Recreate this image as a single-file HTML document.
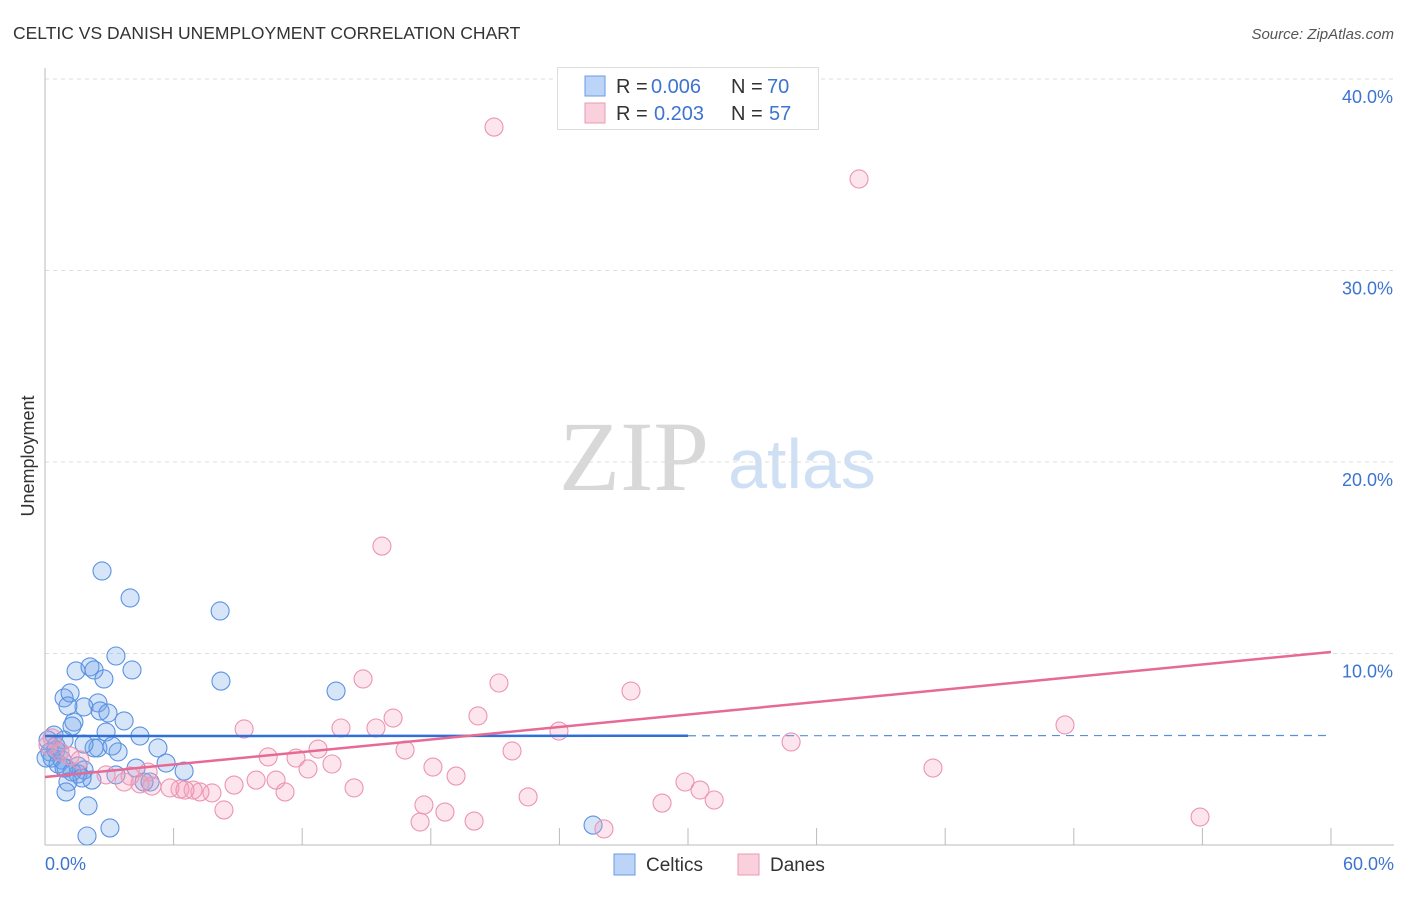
<!DOCTYPE html>
<html><head><meta charset="utf-8"><style>
body{margin:0;background:#fff;font-family:"Liberation Sans",sans-serif}
svg text{font-family:"Liberation Sans",sans-serif}
</style></head><body>
<svg id="chart" width="1406" height="892">
<text x="13" y="39" font-size="17.5" fill="#333">CELTIC VS DANISH UNEMPLOYMENT CORRELATION CHART</text>
<text x="1394" y="39" font-size="15" font-style="italic" fill="#555" text-anchor="end">Source: ZipAtlas.com</text>
<text x="34" y="456" font-size="18" fill="#333" text-anchor="middle" transform="rotate(-90 34 456)">Unemployment</text>
<g><text x="634" y="490" font-size="100" style="font-family:'Liberation Serif',serif" fill="#d8d8d8" text-anchor="middle">ZIP</text><text x="802" y="488" font-size="70" fill="#cfe0f5" text-anchor="middle">atlas</text></g>
<g id="grid"></g><g id="axes"></g><g id="pts"></g><g id="lines"></g>
<g>
<rect x="557.5" y="67.5" width="261" height="62" fill="#fff" stroke="#ddd"/>
<rect x="585" y="76" width="20" height="20" fill="#bcd4f7" stroke="#6a9be0"/>
<rect x="585" y="103" width="20" height="20" fill="#fbd0dd" stroke="#ea9ab4"/>
<text x="616" y="93" font-size="20" fill="#333">R =</text>
<text x="651" y="93" font-size="20" fill="#3d74d0">0.006</text>
<text x="731" y="93" font-size="20" fill="#333">N =</text>
<text x="767" y="93" font-size="20" fill="#3d74d0">70</text>
<text x="616" y="120" font-size="20" fill="#333">R =</text>
<text x="654" y="120" font-size="20" fill="#3d74d0">0.203</text>
<text x="731" y="120" font-size="20" fill="#333">N =</text>
<text x="769" y="120" font-size="20" fill="#3d74d0">57</text>
</g>
<g>
<rect x="614" y="854" width="21" height="21" fill="#bcd4f7" stroke="#6a9be0"/>
<text x="646" y="871" font-size="19" fill="#333">Celtics</text>
<rect x="738" y="854" width="21" height="21" fill="#fbd0dd" stroke="#ea9ab4"/>
<text x="770" y="871" font-size="19" fill="#333">Danes</text>
</g>
</svg>
<script>
const yTicks=[10,20,30,40];
const yTickLabels=["10.0%","20.0%","30.0%","40.0%"];
const xTickLabels=["0.0%","60.0%"];
const celticsX=[2.66,3.97,8.17,3.31,1.45,2.10,2.29,4.06,8.21,13.58,2.75,0.89,1.17,2.47,1.82,2.57,2.94,1.07,1.35,1.26,3.69,0.42,4.43,0.14,2.85,2.47,2.29,3.41,5.27,0.51,0.70,0.23,0.33,0.79,0.05,0.61,0.98,1.54,1.82,1.54,4.25,5.65,6.49,0.89,1.26,3.31,4.62,4.90,2.19,1.73,1.07,0.98,2.01,1.96,3.03,25.57,1.82,0.51,0.89,3.13];
const celticsY=[14.31,12.90,12.22,9.87,9.09,9.30,9.14,9.14,8.56,8.04,8.67,7.68,7.94,7.42,7.21,7.00,6.89,7.26,6.42,6.21,6.48,5.74,5.69,5.48,5.90,5.07,5.07,4.86,5.07,5.17,4.86,4.86,4.54,4.44,4.54,4.23,4.02,4.13,3.92,3.71,4.02,4.28,3.86,4.02,3.81,3.66,3.29,3.29,3.39,3.50,3.29,2.77,2.04,0.47,0.89,1.04,5.27,4.96,5.48,5.17];
const danesX=[20.95,37.98,15.72,14.84,21.18,27.34,16.24,20.20,47.59,9.29,13.81,15.44,23.98,12.74,10.41,16.80,21.79,34.81,0.33,0.14,0.70,1.17,1.63,11.71,13.39,12.27,18.10,19.18,10.78,9.85,8.82,7.79,7.23,6.91,6.30,5.83,6.53,14.42,11.20,4.81,3.97,2.85,3.69,4.43,4.99,29.86,30.56,31.22,28.79,22.54,17.68,18.66,17.50,20.02,26.08,41.43,53.89,8.35];
const danesY=[37.49,34.78,15.61,8.67,8.46,8.04,6.63,6.74,6.27,6.06,6.11,6.11,5.95,5.01,4.60,4.96,4.91,5.38,5.59,5.22,4.86,4.65,4.44,4.54,4.23,3.97,4.07,3.60,3.39,3.39,3.13,2.72,2.77,2.87,2.92,2.98,2.87,2.98,2.77,3.81,3.60,3.66,3.29,3.19,3.08,3.29,2.87,2.35,2.19,2.51,2.09,1.72,1.20,1.25,0.84,4.02,1.46,1.83];
const celticsTrend=[5.69,5.72];
const danesTrend=[3.55,10.08];
const NS="http://www.w3.org/2000/svg";
const X0=45,X1=1331,Y0=845,PPY=19.15;
const sx=v=>X0+(v/60)*(X1-X0);
const sy=v=>Y0-v*PPY;
function mk(tag,attrs,parent){const e=document.createElementNS(NS,tag);for(const k in attrs)e.setAttribute(k,attrs[k]);document.getElementById(parent).appendChild(e);return e;}
yTicks.forEach((t,i)=>{
 const l=mk('line',{x1:X0,x2:1394,y1:sy(t),y2:sy(t),stroke:'#ddd','stroke-dasharray':'4,4'},'grid');
 
 
 const tx=mk('text',{x:1393,y:sy(t)+24,'font-size':18,fill:'#3d74d0','text-anchor':'end'},'grid');
 tx.textContent=yTickLabels[i];
 
 
});
const ax=mk('line',{x1:X0,x2:1394,y1:Y0,y2:Y0,stroke:'#bbb'},'axes');


const ay=mk('line',{x1:X0,x2:X0,y1:68,y2:Y0,stroke:'#bbb'},'axes');


for(let v=6;v<=60;v+=6){const t=mk('line',{x1:sx(v),x2:sx(v),y1:828,y2:Y0,stroke:'#bbb'},'axes');
 
 }
[[0,'start',X0],[1,'end',1394]].forEach(([i,a,x])=>{const t=mk('text',{x:x,y:870,'font-size':18,fill:'#3d74d0','text-anchor':a},'axes');t.textContent=xTickLabels[i];
 
 });
celticsX.forEach((v,i)=>{const c=mk('circle',{cx:sx(v),cy:sy(celticsY[i]),r:9,fill:'rgba(110,160,235,0.28)',stroke:'#5a92e2','stroke-width':1.1},'pts');
 
 });
danesX.forEach((v,i)=>{const c=mk('circle',{cx:sx(v),cy:sy(danesY[i]),r:9,fill:'rgba(245,160,190,0.28)',stroke:'#ec94b2','stroke-width':1.1},'pts');
 
 });
const cm=celticsTrend[0]+(celticsTrend[1]-celticsTrend[0])*(30/60);
const l1=mk('line',{x1:sx(0),y1:sy(celticsTrend[0]),x2:sx(30),y2:sy(cm),stroke:'#2f6fd6','stroke-width':2.5},'lines');


const l2=mk('line',{x1:sx(30),y1:sy(cm),x2:sx(60),y2:sy(celticsTrend[1]),stroke:'#5a8fe0','stroke-width':1.2,'stroke-dasharray':'8,6'},'lines');


const l3=mk('line',{x1:sx(0),y1:sy(danesTrend[0]),x2:sx(60),y2:sy(danesTrend[1]),stroke:'#e66a96','stroke-width':2.5},'lines');


</script>
</body></html>
